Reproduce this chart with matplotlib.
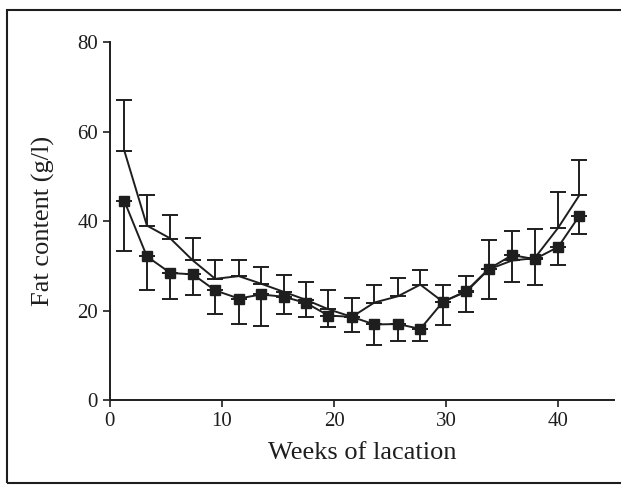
import matplotlib.pyplot as plt
from matplotlib.patches import Rectangle

plt.rcParams['font.family'] = ['Liberation Serif', 'DejaVu Serif']

weeks = [1.3, 3.3, 5.4, 7.4, 9.4, 11.5, 13.5, 15.5, 17.5, 19.5, 21.6,
         23.6, 25.7, 27.7, 29.7, 31.8, 33.8, 35.9, 37.9, 40.0, 41.9]

# series drawn with square markers, errors shown below the mean
fat_sq = [44.4, 32.1, 28.4, 28.1, 24.5, 22.7, 23.6, 23.1, 21.7, 18.9, 18.6,
          16.9, 17.0, 15.9, 21.9, 24.4, 29.3, 32.4, 31.5, 34.2, 41.2]
low_sq = [33.3, 24.5, 22.5, 23.4, 19.2, 16.9, 16.5, 19.3, 18.5, 16.4, 15.2,
          12.4, 13.3, 13.2, 16.8, 19.7, 22.7, 26.5, 25.8, 30.2, 37.0]

# plain line, errors shown above the mean
fat_ln = [55.6, 39.0, 36.1, 31.2, 27.1, 27.7, 26.0, 24.2, 22.4, 20.3, 18.6,
          21.8, 23.2, 25.8, 22.0, 24.2, 29.2, 31.2, 31.7, 38.5, 45.8]
up_ln = [67.1, 45.8, 41.3, 36.2, 31.2, 31.4, 29.7, 28.0, 26.4, 24.6, 22.9,
         25.7, 27.3, 29.0, 25.7, 27.7, 35.8, 37.8, 38.2, 46.4, 53.7]

col = '#1e1e1e'

fig = plt.figure(figsize=(6.21, 4.94), dpi=100)
ax = fig.add_axes([0.177, 0.19, 0.812, 0.725])

err_sq = [[m - l for m, l in zip(fat_sq, low_sq)], [0] * len(fat_sq)]
err_ln = [[0] * len(fat_ln), [u - m for m, u in zip(fat_ln, up_ln)]]

ax.errorbar(weeks, fat_ln, yerr=err_ln, color=col, lw=1.4, elinewidth=1.4,
            capsize=5.5, capthick=1.4)
ax.errorbar(weeks, fat_sq, yerr=err_sq, color=col, lw=1.4, elinewidth=1.4,
            capsize=5.5, capthick=1.4, marker='s', markersize=6.5)

ax.set_xlim(0, 45)
ax.set_ylim(0, 80)
ax.set_xticks([0, 10, 20, 30, 40])
ax.set_yticks([0, 20, 40, 60, 80])
ax.spines['top'].set_visible(False)
ax.spines['right'].set_visible(False)
for s in ('left', 'bottom'):
    ax.spines[s].set_linewidth(1.4)
    ax.spines[s].set_color(col)
ax.tick_params(direction='out', length=5, width=1.2, labelsize=15, colors=col)
ax.set_xlabel('Weeks of lacation', fontsize=19, color=col, labelpad=8)
ax.set_ylabel('Fat content (g/l)', fontsize=19, color=col, labelpad=16)

fig.patches.append(Rectangle((0.011, 0.022), 1.1, 0.958, transform=fig.transFigure,
                             fill=False, edgecolor=col, lw=1.5))

fig.savefig('out.png', dpi=100)
